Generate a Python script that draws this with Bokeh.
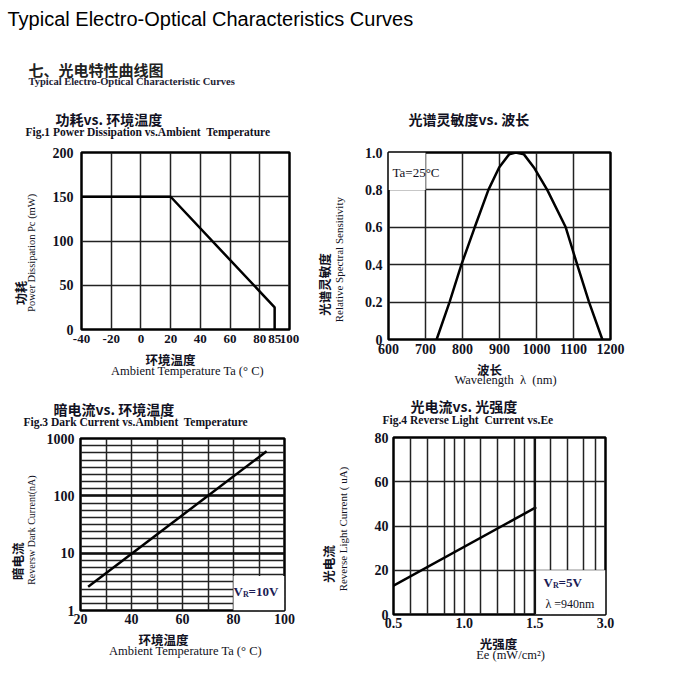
import math
import numpy as np
from bokeh.plotting import figure
from bokeh.models import Range1d, FixedTicker, Label, Grid, Span, BasicTickFormatter
from bokeh.layouts import column, row
from bokeh.embed import file_html
from bokeh.resources import INLINE

# ---------------- data ----------------
# Fig.1 power dissipation vs ambient temperature
fig1_temp = [-40, 20, 85, 85]
fig1_power = [150, 150, 25, 0]
fig1_xticks = [-40, -20, 0, 20, 40, 60, 80, 85, 100]
fig1_xgrid = [-40, -20, 0, 20, 40, 60, 80, 100]
fig1_yticks = [0, 50, 100, 150, 200]
# the original axis is drawn non-uniformly: 85 sits midway between 80 and 100
fig1_axis_values = [-40, 80, 85, 100]
fig1_axis_positions = [-40, 80, 90, 100]

# Fig.2 relative spectral sensitivity vs wavelength
fig2_wavelength = [730, 765, 797, 833, 870, 899, 926, 944, 966, 993, 1029, 1079, 1110, 1142, 1178]
fig2_sensitivity = [0, 0.2, 0.4, 0.6, 0.8, 0.92, 0.99, 1.0, 0.99, 0.92, 0.8, 0.6, 0.4, 0.2, 0]
fig2_xticks = [600, 700, 800, 900, 1000, 1100, 1200]
fig2_yticks = [0, 0.2, 0.4, 0.6, 0.8, 1.0]
fig2_ylabels = ["0", "0.2", "0.4", "0.6", "0.8", "1.0"]

# Fig.3 dark current vs ambient temperature (log)
fig3_temp = [23, 93]
fig3_current = [2.6, 600]
fig3_xticks = [20, 40, 60, 80, 100]
fig3_xgrid = [20, 30, 40, 50, 60, 70, 80, 90, 100]
fig3_yticks = [1, 10, 100, 1000]
fig3_ylabels = ["1", "10", "100", "1000"]
fig3_sub_steps = 8

# Fig.4 reverse light current vs Ee
fig4_ee = [0.5, 1.53]
fig4_current = [13, 48.5]
fig4_xtick_values = [0.5, 1.0, 1.5, 3.0]
fig4_xtick_labels = ["0.5", "1.0", "1.5", "3.0"]
fig4_xgrid_pos = [0.235, 0.48, 0.715, 0.857, 1.0, 1.235, 1.47, 1.715, 1.857,
                  2.225, 2.46, 2.695, 2.86, 3.0]
fig4_yticks = [0, 20, 40, 60, 80]

SERIF = "Liberation Serif"
CJK = "Noto Sans CJK SC"
INK = "#111122"
NB2 = "\u00a0 "  # a visible double space


def base_fig(fw, fh, left, right, top, bottom, xr, yr, y_type="linear",
             xstand=3, ystand=7, tick_size="14px"):
    p = figure(frame_width=fw, frame_height=fh, min_border_left=left,
               min_border_right=right, min_border_top=top, min_border_bottom=bottom,
               x_range=xr, y_range=yr, y_axis_type=y_type,
               toolbar_location=None, output_backend="svg")
    p.outline_line_color = "black"
    p.outline_line_width = 2.5
    p.background_fill_color = "white"
    p.border_fill_color = "white"
    for ax in (p.xaxis[0], p.yaxis[0]):
        ax.axis_line_color = None
        ax.major_tick_line_color = None
        ax.minor_tick_line_color = None
        ax.major_tick_out = 0
        ax.major_tick_in = 0
        ax.minor_tick_out = 0
        ax.major_label_text_font = SERIF
        ax.major_label_text_font_style = "bold"
        ax.major_label_text_font_size = tick_size
        ax.major_label_text_color = INK
    p.xaxis.major_label_standoff = xstand
    p.yaxis.major_label_standoff = ystand
    p.grid.grid_line_color = "#222222"
    p.grid.grid_line_width = 1.5
    p.xgrid.minor_grid_line_color = None
    p.ygrid.minor_grid_line_color = None
    return p


def strip(x0, y0, w, h):
    """A text-only canvas whose data coordinates equal page pixels."""
    s = figure(width=w, height=h, x_range=Range1d(x0, x0 + w), y_range=Range1d(y0 + h, y0),
               toolbar_location=None, output_backend="svg", min_border=0,
               x_axis_location=None, y_axis_location=None)
    s.outline_line_color = None
    s.grid.visible = False
    s.background_fill_color = "white"
    s.border_fill_color = "white"
    return s


def txt(s, px, py, text, font=SERIF, size="11px", bold=False, align="left",
        angle=0.0, color=INK):
    s.add_layout(Label(x=px, y=py, text=text, text_font=font, text_font_size=size,
                       text_font_style="bold" if bold else "normal",
                       text_align=align, text_baseline="middle", angle=angle,
                       text_color=color))


def lab(p, frame, px, py, text, font=SERIF, size="11px", bold=False,
        align="left", color=INK):
    fl, ft, fw, fh = frame
    p.add_layout(Label(x=px - fl, y=(ft + fh) - py, x_units="screen", y_units="screen",
                       text=text, text_font=font, text_font_size=size,
                       text_font_style="bold" if bold else "normal",
                       text_align=align, text_baseline="middle", text_color=color))


UP = math.pi / 2

# ---------------- header ----------------
hdr = strip(0, 0, 670, 98)
txt(hdr, 7, 18, "Typical Electro-Optical Characteristics Curves",
    font="Liberation Sans", size="20px", color="black")
txt(hdr, 28, 68.5, "七、光电特性曲线图", font=CJK, size="15px", bold=True, color="#222222")
txt(hdr, 28, 81, "Typical Electro-Optical Characteristic Curves", size="10.5px",
    bold=True, color="#222233")

# ---------------- Fig.1 ----------------
F1 = (81, 152, 208, 177)
f1 = base_fig(208, 177, 41, 23, 12, 20, Range1d(-40, 100), Range1d(0, 200),
              xstand=5, ystand=8)
pos1 = lambda v: np.interp(v, fig1_axis_values, fig1_axis_positions)
f1_tick_pos = [float(t) for t in pos1(fig1_xticks)]
f1.xaxis.ticker = FixedTicker(ticks=f1_tick_pos)
f1.xaxis.major_label_overrides = {tp: str(t) for tp, t in zip(f1_tick_pos, fig1_xticks)}
f1.xaxis.major_label_text_font_size = "13px"
f1.xgrid.ticker = FixedTicker(ticks=[float(t) for t in pos1(fig1_xgrid)])
f1.yaxis.ticker = FixedTicker(ticks=fig1_yticks)
f1.line(pos1(fig1_temp), fig1_power, line_color="black", line_width=2.5)

t1 = strip(0, 98, 312, 42)
txt(t1, 55, 118.5, "功耗vs. 环境温度", font=CJK, size="14px", bold=True)
txt(t1, 25, 131.5, "Fig.1 Power Dissipation vs.Ambient" + NB2 + "Temperature",
    size="11.5px", bold=True)
l1 = strip(0, 140, 40, 209)
txt(l1, 20, 306, "功耗", font=CJK, size="12px", bold=True, angle=UP, align="center")
txt(l1, 30.5, 258.5, "Power Dissipation Pc (mW)", size="10.5px", angle=UP, align="center")
b1 = strip(0, 349, 312, 38)
txt(b1, 170, 359, "环境温度", font=CJK, size="12.5px", bold=True, align="center")
txt(b1, 187, 370, "Ambient Temperature Ta (° C)", size="12.5px", align="center")
cell1 = column(t1, row(l1, f1), b1)

# ---------------- Fig.2 ----------------
F2 = (388, 152, 222, 187)
f2 = base_fig(222, 187, 38, 60, 12, 20, Range1d(600, 1200), Range1d(0, 1.0),
              xstand=4, ystand=6)
f2.xaxis.ticker = FixedTicker(ticks=fig2_xticks)
f2.yaxis.ticker = FixedTicker(ticks=fig2_yticks)
f2.yaxis.major_label_overrides = dict(zip(fig2_yticks, fig2_ylabels))
f2.quad(left=600, right=700, bottom=0.8, top=1.0, fill_color="white", line_color=None)
f2.line(fig2_wavelength, fig2_sensitivity, line_color="black", line_width=2.5)
lab(f2, F2, 392, 172, "Ta=25°C", size="13px")

t2 = strip(312, 98, 358, 42)
txt(t2, 408, 118, "光谱灵敏度vs. 波长", font=CJK, size="14px", bold=True)
l2 = strip(312, 140, 38, 219)
txt(l2, 324, 294.5, "光谱灵敏度", font=CJK, size="12.5px", bold=True, angle=UP, align="center")
txt(l2, 338, 265.5, "Relative Spectral Sensitivity", size="11px", angle=UP, align="center")
b2 = strip(312, 359, 358, 28)
txt(b2, 489, 369, "波长", font=CJK, size="12.5px", bold=True, align="center")
txt(b2, 505, 379.5, "Wavelength" + NB2 + "λ" + NB2 + "(nm)", size="12.5px", align="center")
cell2 = column(t2, row(l2, f2), b2)

# ---------------- Fig.3 ----------------
F3 = (80, 438, 204, 172)
f3 = base_fig(204, 172, 40, 28, 8, 19, Range1d(20, 100), Range1d(1, 1000),
              y_type="log", xstand=3, ystand=6)
f3.xaxis.ticker = FixedTicker(ticks=fig3_xticks)
f3.xgrid.ticker = FixedTicker(ticks=fig3_xgrid)
f3.yaxis.ticker = FixedTicker(ticks=fig3_yticks)
f3.yaxis.formatter = BasicTickFormatter()
f3.yaxis.major_label_overrides = dict(zip(fig3_yticks, fig3_ylabels))
sub = [10 ** (d + k / fig3_sub_steps) for d in range(3) for k in range(1, fig3_sub_steps)]
f3.ygrid.ticker = FixedTicker(ticks=sub + fig3_yticks)
f3.add_layout(Grid(dimension=1, ticker=FixedTicker(ticks=[10, 100]),
                   grid_line_color="#111111", grid_line_width=2.5))
f3.quad(left=80, right=100, bottom=1, top=4, fill_color="white", line_color=None)
f3.line(fig3_temp, fig3_current, line_color="black", line_width=2.5)
lab(f3, F3, 233, 591, "V", size="13px", bold=True, color="#1b1b55")
lab(f3, F3, 242.5, 594, "R", size="8px", bold=True, color="#1b1b55")
lab(f3, F3, 248, 591, "=10V", size="13px", bold=True, color="#1b1b55")

t3 = strip(0, 387, 312, 43)
txt(t3, 53, 408.5, "暗电流vs. 环境温度", font=CJK, size="14px", bold=True)
txt(t3, 23, 421, "Fig.3 Dark Current vs.Ambient" + NB2 + "Temperature", size="11.5px", bold=True)
l3 = strip(0, 430, 40, 199)
txt(l3, 17, 572, "暗电流", font=CJK, size="12.5px", bold=True, angle=UP, align="center")
txt(l3, 30.5, 536, "Reversw Dark Current(nA)", size="10px", angle=UP, align="center")
b3 = strip(0, 629, 312, 41)
txt(b3, 163, 639, "环境温度", font=CJK, size="12.5px", bold=True, align="center")
txt(b3, 185, 650, "Ambient Temperature Ta (° C)", size="12.5px", align="center")
cell3 = column(t3, row(l3, f3), b3)

# ---------------- Fig.4 ----------------
F4 = (393, 437, 212, 177)
f4 = base_fig(212, 177, 41, 65, 7, 19, Range1d(0, 3), Range1d(0, 80),
              xstand=3, ystand=5)
pos4 = lambda v: np.interp(v, fig4_xtick_values, [0.0, 1.0, 2.0, 3.0])
f4_tick_pos = [float(t) for t in pos4(fig4_xtick_values)]
f4.xaxis.ticker = FixedTicker(ticks=f4_tick_pos)
f4.xaxis.major_label_overrides = dict(zip(f4_tick_pos, fig4_xtick_labels))
f4.xgrid.ticker = FixedTicker(ticks=fig4_xgrid_pos)
f4.yaxis.ticker = FixedTicker(ticks=fig4_yticks)
f4.quad(left=2.0, right=3.0, bottom=0, top=20, fill_color="white", line_color=None)
f4.add_layout(Span(location=2.0, dimension="height", line_color="#111111", line_width=2.5))
f4.line(pos4(fig4_ee), fig4_current, line_color="black", line_width=2.5)
lab(f4, F4, 543, 582, "V", size="13px", bold=True, color="#1b1b55")
lab(f4, F4, 552.5, 585, "R", size="8px", bold=True, color="#1b1b55")
lab(f4, F4, 558, 582, "=5V", size="13px", bold=True, color="#1b1b55")
lab(f4, F4, 545, 603.5, "λ =940nm", size="12px")

t4 = strip(312, 387, 358, 43)
txt(t4, 410, 405.5, "光电流vs. 光强度", font=CJK, size="14px", bold=True)
txt(t4, 382, 419, "Fig.4 Reverse Light" + NB2 + "Current vs.Ee", size="11.5px", bold=True)
l4 = strip(312, 430, 40, 203)
txt(l4, 327.5, 575, "光电流", font=CJK, size="12.5px", bold=True, angle=UP, align="center")
txt(l4, 342, 535, "Reverse Light Current ( uA)", size="11px", angle=UP, align="center")
b4 = strip(312, 633, 358, 37)
txt(b4, 498, 643, "光强度", font=CJK, size="12.5px", bold=True, align="center")
txt(b4, 510, 654.5, "Ee (mW/cm²)", size="12.5px", align="center")
cell4 = column(t4, row(l4, f4), b4)

layout = column(hdr, row(cell1, cell2), row(cell3, cell4))
open("out.html", "w").write(file_html(layout, INLINE))
